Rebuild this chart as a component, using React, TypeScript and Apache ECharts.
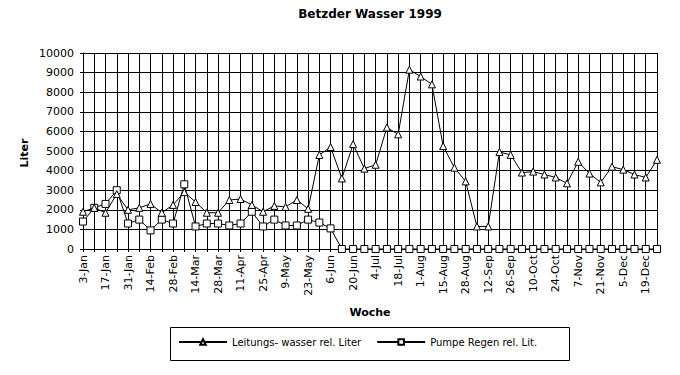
import React, { useEffect, useRef } from "react";
import * as echarts from "echarts";

const weeks = [
  "3-Jan", "10-Jan", "17-Jan", "24-Jan", "31-Jan", "7-Feb", "14-Feb", "21-Feb", "28-Feb",
  "7-Mar", "14-Mar", "21-Mar", "28-Mar", "4-Apr", "11-Apr", "18-Apr", "25-Apr",
  "2-May", "9-May", "16-May", "23-May", "30-May", "6-Jun", "13-Jun", "20-Jun", "27-Jun",
  "4-Jul", "11-Jul", "18-Jul", "25-Jul", "1-Aug", "8-Aug", "15-Aug", "22-Aug", "28-Aug",
  "5-Sep", "12-Sep", "19-Sep", "26-Sep", "3-Oct", "10-Oct", "17-Oct", "24-Oct", "31-Oct",
  "7-Nov", "14-Nov", "21-Nov", "28-Nov", "5-Dec", "12-Dec", "19-Dec", "26-Dec",
];

const leitungswasser = [
  1900, 2100, 1850, 2800, 2000, 2100, 2300, 1850, 2250, 2900,
  2400, 1850, 1850, 2500, 2550, 2250, 1900, 2200, 2150, 2500,
  2050, 4800, 5200, 3600, 5350, 4100, 4300, 6200, 5850, 9150,
  8800, 8400, 5250, 4150, 3450, 1150, 1150, 4950, 4800, 3900,
  3950, 3800, 3650, 3350, 4450, 3850, 3400, 4200, 4050, 3800,
  3650, 4550,
];

const pumpeRegen = [
  1400, 2100, 2300, 3000, 1300, 1500, 950, 1500, 1300, 3300,
  1150, 1300, 1300, 1200, 1300, 1900, 1150, 1500, 1200, 1200,
  1500, 1350, 1050, 0, 0, 0, 0, 0, 0, 0,
  0, 0, 0, 0, 0, 0, 0, 0, 0, 0,
  0, 0, 0, 0, 0, 0, 0, 0, 0, 0,
  0, 0,
];

const seriesNames = ["Leitungs- wasser rel. Liter", "Pumpe Regen rel. Lit."];
const titleText = "Betzder Wasser 1999";
const yName = "Liter";
const xName = "Woche";

const FONT = "DejaVu Sans";

export default function App() {
  const ref = useRef<HTMLDivElement>(null);
  useEffect(() => {
    const chart = echarts.init(ref.current!, null, { renderer: "svg" });
    chart.setOption({
      animation: false,
      backgroundColor: "#fff",
      textStyle: { fontFamily: FONT, color: "#000" },
      grid: { left: 83, right: 23, top: 53, bottom: 126, containLabel: false },
      xAxis: {
        type: "category",
        data: weeks,
        boundaryGap: false,
        axisLine: { show: true, lineStyle: { color: "#000", width: 1 } },
        axisTick: { show: true, interval: 0, length: 3, lineStyle: { color: "#000" } },
        axisLabel: {
          interval: 1,
          rotate: 90,
          fontSize: 11,
          color: "#000",
          margin: 6,
          fontFamily: FONT,
        },
        splitLine: { show: true, interval: 0, lineStyle: { color: "#000", width: 1 } },
      },
      yAxis: {
        type: "value",
        min: 0,
        max: 10000,
        interval: 1000,
        axisLine: { show: true, lineStyle: { color: "#000", width: 1 } },
        axisTick: { show: true, length: 3, lineStyle: { color: "#000" } },
        axisLabel: {
          fontSize: 11,
          color: "#000",
          margin: 9,
          fontFamily: FONT,
          formatter: (v: number) => String(v),
        },
        splitLine: { show: true, lineStyle: { color: "#000", width: 1 } },
      },
      legend: {
        left: 178,
        top: 337,
        itemWidth: 48,
        itemHeight: 7,
        itemGap: 15,
        padding: 0,
        textStyle: { fontSize: 10, color: "#000", fontFamily: FONT },
        data: seriesNames,
      },
      graphic: [
        {
          type: "rect",
          shape: { x: 170.5, y: 327.5, width: 399, height: 33 },
          style: { fill: "none", stroke: "#000", lineWidth: 1 },
          silent: true,
        },
        {
          type: "text",
          x: 370,
          y: 14,
          style: {
            text: titleText,
            font: `bold 12px "${FONT}"`,
            fill: "#000",
            textAlign: "center",
            textVerticalAlign: "middle",
          },
        },
        {
          type: "text",
          x: 24,
          y: 153,
          rotation: Math.PI / 2,
          style: {
            text: yName,
            font: `bold 11px "${FONT}"`,
            fill: "#000",
            textAlign: "center",
            textVerticalAlign: "middle",
          },
        },
        {
          type: "text",
          x: 370,
          y: 312,
          style: {
            text: xName,
            font: `bold 11px "${FONT}"`,
            fill: "#000",
            textAlign: "center",
            textVerticalAlign: "middle",
          },
        },
      ],
      series: [
        {
          name: seriesNames[0],
          type: "line",
          data: leitungswasser,
          symbol: "triangle",
          symbolSize: 7,
          showAllSymbol: true,
          itemStyle: { color: "#fff", borderColor: "#000", borderWidth: 1 },
          lineStyle: { color: "#000", width: 1 },
          z: 3,
        },
        {
          name: seriesNames[1],
          type: "line",
          data: pumpeRegen,
          symbol: "rect",
          symbolSize: 7,
          showAllSymbol: true,
          itemStyle: { color: "#fff", borderColor: "#000", borderWidth: 1 },
          lineStyle: { color: "#000", width: 1 },
          z: 2,
        },
      ],
    });
    return () => chart.dispose();
  }, []);
  return (
    <div
      ref={ref}
      style={{ position: "fixed", left: 0, top: 0, width: 680, height: 375 }}
    />
  );
}
